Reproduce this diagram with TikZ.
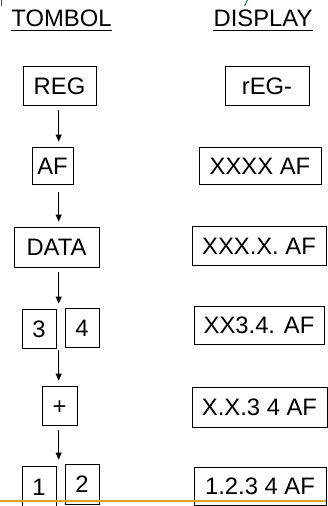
\documentclass[tikz,border=0pt]{standalone}
\usepackage{fontspec}
\setmainfont{Liberation Sans}
\usetikzlibrary{arrows.meta}
\definecolor{goldline}{RGB}{218,165,32}
\definecolor{markgreen}{RGB}{20,120,60}
\begin{document}
\begin{tikzpicture}[x=1pt,y=-1pt,
  every node/.style={font=\fontsize{23.8}{28}\selectfont},
  key/.style={draw=black, line width=0.8pt, inner sep=0pt, text height=17pt, text depth=0pt, align=center},
  hdr/.style={inner sep=0pt, anchor=base},
  arr/.style={-{Triangle[length=7pt,width=6pt]}, line width=0.8pt},
  uline/.style={line width=0.9pt}]
\useasboundingbox (0,0) rectangle (327,506);
% headers
\node[hdr] (tombol) at (61.5,27) {TOMBOL};
\node[hdr] (display) at (263,27) {DISPLAY};
\draw[uline] ([yshift=-3pt]tombol.base west) -- ([yshift=-3pt]tombol.base east);
\draw[uline] ([yshift=-3pt]display.base west) -- ([yshift=-3pt]display.base east);
% left column (keys)
\node[key, minimum width=73pt, minimum height=39pt] (reg) at (59.5,85.5) {REG};
\node[key, minimum width=41pt, minimum height=37pt] (af) at (52.5,165.5) {AF};
\node[key, minimum width=85pt, minimum height=40pt] (data) at (56.5,247) {DATA};
\node[key, minimum width=34pt, minimum height=39pt] (k3) at (39,328.5) {3};
\node[key, minimum width=34pt, minimum height=39pt] (k4) at (82,327.5) {4};
\node[key, minimum width=35pt, minimum height=39pt] (plus) at (59.5,405.5) {+};
\node[key, minimum width=34pt, minimum height=41pt] (k1) at (39,486.5) {1};
\node[key, minimum width=34pt, minimum height=40pt] (k2) at (82,484) {2};
% right column (display)
\node[key, minimum width=84pt, minimum height=39pt] (d1) at (267,85.5) {rEG-};
\node[key, minimum width=122pt, minimum height=37pt] (d2) at (260,165.5) {XXXX AF};
\node[key, minimum width=134pt, minimum height=39pt] (d3) at (259,245.5) {XXX.X. AF};
\node[key, minimum width=130pt, minimum height=38pt] (d4) at (259,325) {XX3.4. AF};
\node[key, minimum width=135pt, minimum height=40pt] (d5) at (259.5,407) {X.X.3 4 AF};
\node[key, minimum width=132pt, minimum height=38pt] (d6) at (260,486) {1.2.3 4 AF};
% spine of the arrows
\coordinate (spine) at (58.7,0);
\draw[arr, shorten <=5pt, shorten >=5pt] (reg.south -| spine) -- (af.north -| spine);
\draw[arr, shorten <=8pt, shorten >=5pt] (af.south -| spine) -- (data.north -| spine);
\draw[arr, shorten <=5pt, shorten >=4pt] (data.south -| spine) -- (k4.north -| spine);
\draw[arr, shorten <=2pt, shorten >=5pt] (k3.south -| spine) -- (plus.north -| spine);
\draw[arr, shorten <=5pt, shorten >=4pt] (plus.south -| spine) -- (k2.north -| spine);
% slide decorations
\coordinate (gl) at (0,501);
\coordinate (gr) at (326,501);
\draw[goldline, line width=1.6pt] (gl) -- (gr);
\coordinate (ga) at (1,0);
\coordinate (gb) at (1,6);
\draw[markgreen, line width=1pt] (ga) -- (gb);
\coordinate (gc) at (247.5,0);
\coordinate (gd) at (244.5,6);
\draw[markgreen, line width=1pt] (gc) -- (gd);
\end{tikzpicture}
\end{document}
